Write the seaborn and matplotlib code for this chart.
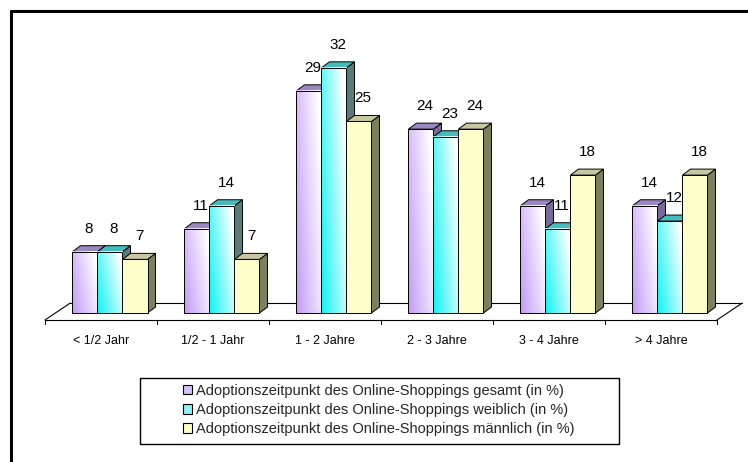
import numpy as np
import pandas as pd
import seaborn as sns
import matplotlib.pyplot as plt
from matplotlib.patches import Polygon, Patch, Rectangle
from matplotlib.lines import Line2D
from matplotlib.colors import to_rgb

# Daten
zeitraum = ['< 1/2 Jahr', '1/2 - 1 Jahr', '1 - 2 Jahre', '2 - 3 Jahre', '3 - 4 Jahre', '> 4 Jahre']
gruppen = ['Adoptionszeitpunkt des Online-Shoppings gesamt (in %)',
           'Adoptionszeitpunkt des Online-Shoppings weiblich (in %)',
           'Adoptionszeitpunkt des Online-Shoppings männlich (in %)']
gesamt = [8, 11, 29, 24, 14, 14]
weiblich = [8, 14, 32, 23, 11, 12]
maennlich = [7, 7, 25, 24, 18, 18]

df = pd.DataFrame({
    'Zeitraum': zeitraum * 3,
    'Gruppe': [g for g in gruppen for _ in zeitraum],
    'Wert': gesamt + weiblich + maennlich,
})

# Farben: Vorderseite (Verlauf), Seite, Deckel
front = ['#c49af5', '#10f2f2', '#ffffcc']
seite = ['#7a6a9a', '#5a7b7b', '#7f7f5f']
deckel = ['#9a88c0', '#48bcbc', '#c8c8a0']

sns.set_theme(style='white')
plt.rcParams['font.family'] = ['Liberation Sans', 'DejaVu Sans']

fig = plt.figure(figsize=(7.48, 4.62), dpi=100)
ax = fig.add_axes([0.0572, 0.3026, 0.9358, 0.6169])

sns.barplot(data=df, x='Zeitraum', y='Wert', hue='Gruppe', order=zeitraum,
            hue_order=gruppen, palette=front, width=0.67, gap=0,
            errorbar=None, legend=False, ax=ax)

ax.set_xlim(-0.6, 5.65)
ax.set_ylim(-1.2, 36)

# Tiefe der Säulen (ca. 8 px nach rechts, 6 px nach oben)
dx = 8 / 112
dy = 6 / 7.66

weiss = np.array([1.0, 1.0, 1.0])
xn = np.linspace(0, 1, 24)
yn = np.linspace(0, 1, 60)
XN, YN = np.meshgrid(xn, yn)

for i, p in enumerate(ax.patches):
    k = i // len(zeitraum)
    x0, y0 = p.get_x(), p.get_y()
    w, h = p.get_width(), p.get_height()
    x1, y1 = x0 + w, y0 + h
    z = 3 + 2 * k

    # Seite und Deckel
    ax.add_patch(Polygon([(x1, y0), (x1 + dx, y0 + dy), (x1 + dx, y1 + dy), (x1, y1)],
                         closed=True, facecolor=seite[k], edgecolor='black', lw=0.7, zorder=z))
    ax.add_patch(Polygon([(x0, y1), (x0 + dx, y1 + dy), (x1 + dx, y1 + dy), (x1, y1)],
                         closed=True, facecolor=deckel[k], edgecolor='black', lw=0.7, zorder=z))

    # Vorderseite mit Verlauf
    base = np.array(to_rgb(front[k]))
    if k == 2:
        s = np.ones_like(XN)
    else:
        s = np.clip(1 - (0.75 * XN + 0.35 * YN), 0, 1)
    img = weiss + (base - weiss) * s[..., None]
    ax.imshow(img, extent=(x0, x1, y0, y1), origin='lower', aspect='auto',
              interpolation='bilinear', zorder=z + 1)
    p.set_facecolor('none')
    p.set_edgecolor('black')
    p.set_linewidth(0.7)
    p.set_zorder(z + 1.5)

    ax.text((x0 + x1) / 2 + dx / 2, y1 + 3.0, f'{int(round(h))}', ha='center', va='center',
            fontsize=11, color='black', zorder=10)

ax.set_xlim(-0.6, 5.65)
ax.set_ylim(-1.2, 36)

# Boden
yf, yb = -0.91, 1.3
xl, xr = -0.58, 5.42
sh = 0.225
ax.plot([xl, xr], [yf, yf], color='black', lw=0.8, clip_on=False, zorder=1)
ax.plot([xl + sh, xr + sh], [yb, yb], color='black', lw=0.8, clip_on=False, zorder=1)
ax.plot([xl, xl + sh], [yf, yb], color='black', lw=0.8, clip_on=False, zorder=1)
ax.plot([xr, xr + sh], [yf, yb], color='black', lw=0.8, clip_on=False, zorder=1)
for t in range(len(zeitraum) + 1):
    ax.plot([xl + t, xl + t], [yf, yf - 0.55], color='black', lw=0.8, clip_on=False, zorder=1)

ax.set_xticks([xl + 0.5 + t for t in range(len(zeitraum))], zeitraum)
ax.tick_params(axis='x', length=0, pad=9, labelsize=9, labelcolor='black')
ax.set_yticks([])
ax.set_xlabel('')
ax.set_ylabel('')
for sp in ax.spines.values():
    sp.set_visible(False)
ax.patch.set_alpha(0)

# Legende
handles = [Patch(facecolor=c, edgecolor='black', lw=0.8) for c in ['#d8c0f8', '#90f0f4', '#ffffcc']]
fig.legend(handles, gruppen, loc='center left', bbox_to_anchor=(183 / 748, 1 - 410 / 462),
           frameon=False, fontsize=10.5, handlelength=0.62, handleheight=0.62,
           handletextpad=0.3, labelspacing=0.36, borderpad=0, borderaxespad=0)
fig.add_artist(Rectangle((140 / 748, 1 - 444 / 462), (619 - 140) / 748, (444 - 378) / 462,
                         transform=fig.transFigure, fill=False, edgecolor='black', lw=1.0))

# Rahmen
fig.add_artist(Line2D([10.5 / 748, 1], [1 - 11 / 462, 1 - 11 / 462], transform=fig.transFigure,
                      color='black', lw=2.2))
fig.add_artist(Line2D([10.5 / 748, 10.5 / 748], [0, 1 - 11 / 462], transform=fig.transFigure,
                      color='black', lw=2.2))

fig.savefig('out.png', dpi=100)
